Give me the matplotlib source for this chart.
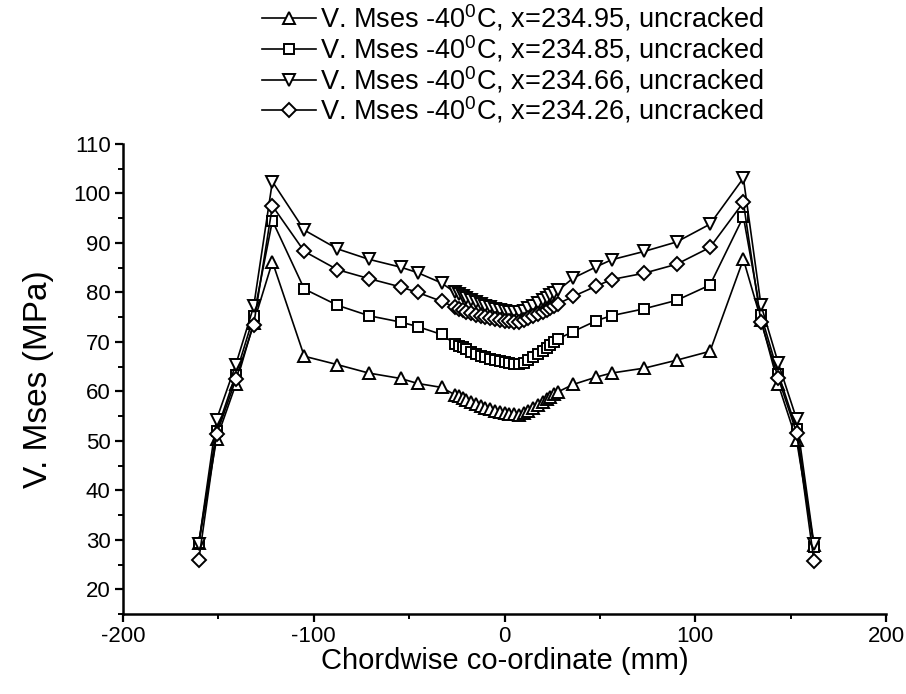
import matplotlib
matplotlib.use('Agg')
import matplotlib.pyplot as plt
from matplotlib.ticker import MultipleLocator

plt.rcParams['font.family'] = ['Liberation Sans', 'DejaVu Sans']
plt.rcParams['mathtext.fontset'] = 'custom'
plt.rcParams['mathtext.rm'] = 'Liberation Sans'
plt.rcParams['axes.unicode_minus'] = False

# chordwise positions (mm), shared by all four series
x = [-160.3, -151.0, -140.9, -131.5, -121.7, -105.0, -87.6, -71.2, -54.4, -45.6, -33.0,
     -26, -24, -22, -20, -17.5, -15, -12.5, -10, -7.5, -5, -2.5, 0, 2.5, 5, 7.5,
     10, 12.5, 15, 17.5, 20, 22, 24, 26, 28,
     36.0, 48.2, 56.1, 73.3, 90.2, 107.7, 125.2, 134.4, 143.5, 153.1, 162.2]

# von Mises stress (MPa)
s_9495 = [29.3, 50.3, 61.4, 73.9, 86.2, 67.1, 65.4, 63.7, 62.6, 61.6, 60.8,
          59.3, 59.0, 58.6, 58.2, 57.8, 57.4, 57.0, 56.7, 56.4, 56.1, 55.9, 55.7, 55.5, 55.4, 55.3,
          55.6, 56.1, 56.7, 57.3, 57.9, 58.4, 58.9, 59.4, 59.9,
          61.4, 62.9, 63.7, 64.7, 66.3, 68.1, 86.7, 74.5, 61.4, 50.1, 29.0]
s_9485 = [29.4, 51.9, 63.4, 75.2, 94.5, 80.7, 77.4, 75.3, 74.0, 73.1, 71.5,
          69.6, 69.2, 68.9, 68.5, 68.0, 67.6, 67.2, 66.9, 66.6, 66.3, 66.1, 65.9, 65.7, 65.6, 65.5,
          65.8, 66.4, 67.0, 67.6, 68.2, 68.8, 69.4, 70.0, 70.6,
          72.1, 74.3, 75.3, 76.7, 78.4, 81.5, 95.3, 75.5, 63.6, 52.3, 28.5]
s_9466 = [29.2, 54.3, 65.4, 77.2, 102.4, 92.6, 88.8, 86.7, 85.1, 84.0, 81.9,
          80.0, 79.6, 79.2, 78.8, 78.4, 78.0, 77.6, 77.3, 77.0, 76.7, 76.5, 76.3, 76.1, 76.0, 76.0,
          76.3, 76.8, 77.3, 77.9, 78.4, 78.9, 79.4, 79.9, 80.4,
          82.9, 85.2, 86.6, 88.3, 90.2, 93.8, 103.1, 77.5, 65.7, 54.4, 29.1]
s_9426 = [25.9, 51.3, 62.4, 73.5, 97.5, 88.3, 84.6, 82.8, 81.1, 80.0, 78.2,
          77.0, 76.7, 76.4, 76.1, 75.8, 75.5, 75.2, 75.0, 74.8, 74.6, 74.4, 74.3, 74.2, 74.1, 74.1,
          74.4, 74.8, 75.2, 75.7, 76.1, 76.5, 76.9, 77.3, 77.7,
          79.2, 81.3, 82.6, 83.9, 85.7, 89.1, 98.2, 74.1, 62.7, 51.6, 25.7]

labels = [r'V. Mses -40$^{0}$C, x=234.95, uncracked',
          r'V. Mses -40$^{0}$C, x=234.85, uncracked',
          r'V. Mses -40$^{0}$C, x=234.66, uncracked',
          r'V. Mses -40$^{0}$C, x=234.26, uncracked']

fig = plt.figure(figsize=(9.06, 6.94), dpi=100)
ax = fig.add_axes([0.1358, 0.1153, 0.8422, 0.6772])

series = [(s_9495, '^', 9), (s_9485, 's', 7.5), (s_9466, 'v', 9), (s_9426, 'D', 7)]
for (vals, mk, ms), lab in zip(series, labels):
    ax.plot(x, vals, color='black', lw=1.2, marker=mk, ms=ms, mfc='white',
            mec='black', mew=1.4, label=lab)

ax.set_xlim(-200, 200)
ax.set_ylim(15, 110)
ax.xaxis.set_major_locator(MultipleLocator(100))
ax.xaxis.set_minor_locator(MultipleLocator(50))
ax.yaxis.set_major_locator(MultipleLocator(10))
ax.yaxis.set_minor_locator(MultipleLocator(5))
ax.spines['top'].set_visible(False)
ax.spines['right'].set_visible(False)
for sp in ('left', 'bottom'):
    ax.spines[sp].set_linewidth(1.8)
ax.tick_params(which='major', direction='out', length=6, width=1.6, labelsize=16, pad=3)
ax.tick_params(which='minor', direction='out', length=3.5, width=1.4)

ax.set_xlabel('Chordwise co-ordinate (mm)', fontsize=21, labelpad=0)
ax.set_ylabel('V. Mses (MPa)', fontsize=24, labelpad=14)

fig.legend(loc='upper right', bbox_to_anchor=(0.846, 1.0), bbox_transform=fig.transFigure,
           frameon=False, fontsize=19.5, handlelength=2.0, handletextpad=0.15,
           labelspacing=0.0, borderaxespad=0, borderpad=0.1)

fig.savefig('out.png', dpi=100)
